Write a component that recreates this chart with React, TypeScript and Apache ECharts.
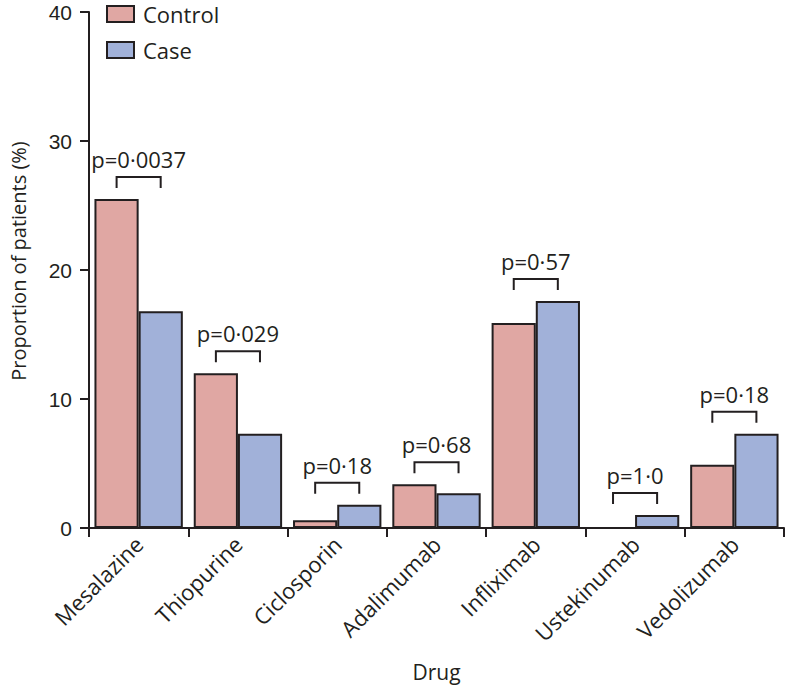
import React, { useEffect, useRef } from "react";
import * as echarts from "echarts";

const categories = ["Mesalazine", "Thiopurine", "Ciclosporin", "Adalimumab", "Infliximab", "Ustekinumab", "Vedolizumab"];
const controlValues = [25.5, 12.0, 0.6, 3.4, 15.9, 0, 4.9];
const caseValues = [16.8, 7.3, 1.8, 2.7, 17.6, 1.0, 7.3];
const pLabels = ["p=0·0037", "p=0·029", "p=0·18", "p=0·68", "p=0·57", "p=1·0", "p=0·18"];
const yTicks = [0, 10, 20, 30, 40];

const FONT = "Open Sans";
const TICK_FONT = "Liberation Sans";
const INK = "#231f20";

export default function App() {
  const ref = useRef<HTMLDivElement>(null);
  useEffect(() => {
    if (!ref.current) return;
    const chart = echarts.init(ref.current, null, { renderer: "svg" });
    const bracketData = categories.map((_, i) => [i, Math.max(controlValues[i], caseValues[i])]);
    chart.setOption({
      animation: false,
      textStyle: { fontFamily: FONT, color: INK },
      grid: { left: 84, right: 6, top: 12, bottom: 160, containLabel: false },
      legend: {
        orient: "vertical",
        left: 106,
        top: 3,
        padding: 0,
        itemWidth: 27,
        itemHeight: 16,
        itemGap: 14,
        icon: "rect",
        data: ["Control", "Case"],
        textStyle: { fontSize: 22, lineHeight: 16, color: INK, fontFamily: FONT, padding: [0, 0, 0, 4] },
      },
      xAxis: {
        type: "category",
        data: categories,
        name: "Drug",
        nameLocation: "middle",
        nameGap: 133,
        nameTextStyle: { fontSize: 21, color: INK, fontFamily: FONT },
        axisLine: { lineStyle: { color: INK, width: 2 } },
        axisTick: { show: true, length: 9, lineStyle: { color: INK, width: 2 } },
        axisLabel: { rotate: 45, fontSize: 22, color: INK, fontFamily: FONT, margin: 12, interval: 0 },
      },
      yAxis: {
        type: "value",
        min: 0,
        max: 40,
        interval: 10,
        name: "Proportion of patients (%)",
        nameLocation: "middle",
        nameGap: 61,
        nameTextStyle: { fontSize: 20, color: INK, fontFamily: FONT, padding: [0, 0, 0, 18] },
        axisLine: { show: true, lineStyle: { color: INK, width: 2 } },
        axisTick: { show: true, length: 9, lineStyle: { color: INK, width: 2 } },
        axisLabel: {
          fontSize: 21,
          lineHeight: 16,
          color: INK,
          fontFamily: TICK_FONT,
          margin: 17,
          formatter: (v: number) => (yTicks.includes(v) ? String(v) : ""),
        },
        splitLine: { show: false },
      },
      series: [
        {
          name: "Control",
          type: "bar",
          data: controlValues,
          barGap: "0%",
          barCategoryGap: "11%",
          itemStyle: { color: "#e0a7a3", borderColor: INK, borderWidth: 2 },
        },
        {
          name: "Case",
          type: "bar",
          data: caseValues,
          barGap: "0%",
          barCategoryGap: "11%",
          itemStyle: { color: "#a1b1d9", borderColor: INK, borderWidth: 2 },
        },
        {
          type: "custom",
          data: bracketData,
          encode: { x: 0, y: 1 },
          silent: true,
          z: 5,
          renderItem: (params: any, api: any) => {
            const idx = api.value(0);
            const top = api.value(1);
            const p = api.coord([idx, top]);
            const w = api.size([1, 0])[0];
            const half = w * 0.222;
            const yLeg = p[1] - 11;
            const yTop = p[1] - 22;
            return {
              type: "group",
              children: [
                {
                  type: "polyline",
                  shape: {
                    points: [
                      [p[0] - half, yLeg],
                      [p[0] - half, yTop],
                      [p[0] + half, yTop],
                      [p[0] + half, yLeg],
                    ],
                  },
                  style: { stroke: INK, lineWidth: 2, fill: null },
                },
                {
                  type: "text",
                  style: {
                    text: pLabels[idx],
                    x: p[0],
                    y: yTop - 18,
                    align: "center",
                    verticalAlign: "middle",
                    fontSize: 22,
                    fontFamily: FONT,
                    fill: INK,
                  },
                },
              ],
            };
          },
        },
      ],
    });
    return () => chart.dispose();
  }, []);
  return <div ref={ref} style={{ width: 790, height: 688, position: "absolute", left: 0, top: 0 }} />;
}
